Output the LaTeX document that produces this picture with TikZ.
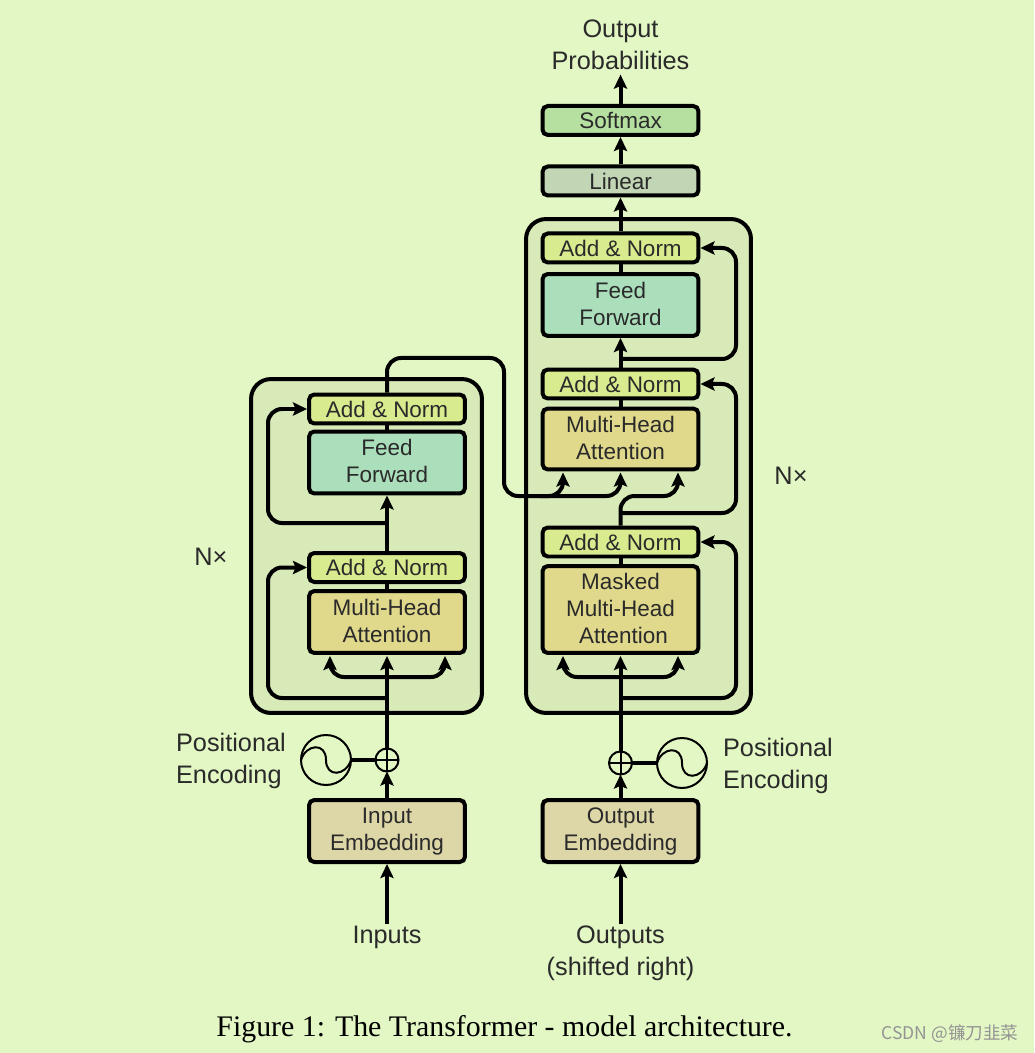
\documentclass[tikz,border=0pt]{standalone}
\usepackage{fontspec}
\setmainfont{Liberation Sans}
\newfontfamily\captionfont{Liberation Serif}
\newfontfamily\cjkfont{Noto Sans CJK SC}
\usepackage{xcolor}
\usetikzlibrary{arrows.meta}
\usetikzlibrary{calc}
\usetikzlibrary{positioning}
\definecolor{pagecolour}{HTML}{E3F7C4}
\definecolor{stackcolour}{HTML}{D7EAB8}
\definecolor{addcolour}{HTML}{D8EC8F}
\definecolor{feedcolour}{HTML}{ABDFBB}
\definecolor{attncolour}{HTML}{E0D88B}
\definecolor{embedcolour}{HTML}{DDD7A8}
\definecolor{softmaxcolour}{HTML}{B5E09F}
\definecolor{linearcolour}{HTML}{C2D5B5}
\definecolor{textcolour}{HTML}{2A2A2A}
\newcommand\wirewidth{.08cm}
\newcommand\thinwidth{.04cm}
\newcommand\boxtext{\fontsize{12.8}{15.3}\selectfont}
\newcommand\sidetext{\fontsize{14.4}{18.1}\selectfont}
\newcommand\nodepth[1]{\raisebox{0pt}[\height][0pt]{#1}}
\tikzset{>={Stealth[length=8pt,width=7.5pt,inset=1.5pt]}}
\tikzstyle{wire}      = [line width=\wirewidth, black]
\tikzstyle{loopwire}  = [wire, rounded corners=.28cm]
\tikzstyle{stack}     = [draw, line width=\wirewidth, fill=stackcolour, rounded corners=.4cm, inner sep=0pt]
\tikzstyle{block}     = [draw, line width=\wirewidth, rounded corners=3pt, inner sep=0pt,
                         minimum width=3.12cm, align=center, text=textcolour, font=\boxtext]
\tikzstyle{twolines}  = [execute at end node={\rule[-1.7pt]{0pt}{1.7pt}}]
\tikzstyle{addblock}  = [block, fill=addcolour, minimum height=.58cm]
\tikzstyle{feedblock} = [block, twolines, fill=feedcolour, minimum height=1.24cm]
\tikzstyle{attnblock} = [block, twolines, fill=attncolour, minimum height=1.24cm]
\tikzstyle{embedblock}= [block, twolines, fill=embedcolour, minimum height=1.24cm]
\tikzstyle{plaintext} = [align=center, text=textcolour, font=\sidetext, inner sep=1pt]
\tikzstyle{sinering}  = [draw, circle, line width=\thinwidth, minimum size=1cm, inner sep=0pt, outer sep=0pt]
\tikzstyle{plusring}  = [draw, circle, line width=\thinwidth, minimum size=.46cm, inner sep=0pt, outer sep=0pt, fill=pagecolour]
\newcommand\sinewave[1]{%
  \draw[line width=\thinwidth] (#1.west) .. controls +(5,-16) and +(0,-18) .. (#1.center)
    .. controls +(0,18) and +(-5,16) .. (#1.east);}
\newcommand\pluscross[1]{%
  \draw[line width=\thinwidth] (#1.north) -- (#1.south);
  \draw[line width=\thinwidth] (#1.west) -- (#1.east);}

\begin{document}
\begin{tikzpicture}[x=.02cm, y=-.02cm]
    \fill[pagecolour] (0, 0) rectangle (1034, 1053);
    \useasboundingbox (0, 0) rectangle (1034, 1053);

    % stacks
    \draw (366.5, 546) node (encoder) [stack, minimum width=4.62cm, minimum height=6.68cm] {};
    \draw (638.5, 466) node (decoder) [stack, minimum width=4.50cm, minimum height=9.88cm] {};

    % encoder blocks
    \draw (387, 831) node (inembed) [embedblock] {Input\\\nodepth{Embedding}};
    \draw (387, 622) node (enattn) [attnblock] {Multi-Head\\Attention};
    \draw (387, 567.5) node (enadda) [addblock] {Add \& Norm};
    \draw (387, 462.5) node (enfeed) [feedblock] {Feed\\Forward};
    \draw (387, 409) node (enaddb) [addblock] {Add \& Norm};

    % decoder blocks
    \draw (620.5, 831) node (outembed) [embedblock] {Output\\\nodepth{Embedding}};
    \draw (620.5, 609.5) node (demask) [attnblock, minimum height=1.74cm] {Masked\\Multi-Head\\\hspace*{.12cm}Attention};
    \draw (620.5, 542) node (deadda) [addblock] {Add \& Norm};
    \draw (620.5, 439) node (deattn) [attnblock, minimum height=1.22cm] {Multi-Head\\Attention};
    \draw (620.5, 384) node (deaddb) [addblock] {Add \& Norm};
    \draw (620.5, 305) node (defeed) [feedblock] {Feed\\Forward};
    \draw (620.5, 248) node (deaddc) [addblock] {Add \& Norm};
    \draw (620.5, 181) node (linear) [addblock, fill=linearcolour] {Linear};
    \draw (620.5, 120.5) node (softmax) [addblock, fill=softmaxcolour] {Softmax};

    % texts
    \draw (387, 937) node (inputs) [plaintext] {Inputs};
    \draw (620.5, 953) node (outputs) [plaintext] {Outputs\\(shifted right)};
    \draw (620.5, 45) node (probs) [plaintext] {Output\\Probabilities};
    \draw (174, 761) node (posl) [plaintext, anchor=west, align=left] {Positional\\Encoding};
    \draw (721, 766) node (posr) [plaintext, anchor=west, align=left] {Positional\\Encoding};
    \draw (211, 557) node (nxl) [plaintext] {N×};
    \draw (791, 476) node (nxr) [plaintext] {N×};
    \draw (504.5, 1029.5) node (figcap) [inner sep=0pt, font={\captionfont\fontsize{17}{20}\selectfont}] {Figure 1: The Transformer - model architecture.};
    \draw (950, 1034) node (mark) [inner sep=0pt, text=black!42, font={\cjkfont\fontsize{10}{12}\selectfont}] {CSDN @镰刀韭菜};

    % positional encoding
    \draw (326, 760) node (sinel) [sinering] {};
    \draw (387, 760) node (plusl) [plusring] {};
    \draw (682, 763) node (siner) [sinering] {};
    \draw (620.5, 763) node (plusr) [plusring] {};
    \sinewave{sinel}
    \sinewave{siner}
    \pluscross{plusl}
    \pluscross{plusr}
    \draw[wire] (sinel) -- (plusl);
    \draw[wire] (siner) -- (plusr);

    % free ends and bends
    \coordinate (enfana) at (330, 656);
    \coordinate (enfanb) at (387, 656);
    \coordinate (enfanc) at (445, 656);
    \coordinate (enfork) at (387, 677);
    \coordinate (enloop) at (387, 698);
    \coordinate (enloopa) at (268, 698);
    \coordinate (enloopb) at (387, 523);
    \coordinate (enloopc) at (268, 523);
    \coordinate (defana) at (563, 656);
    \coordinate (defanb) at (620.5, 656);
    \coordinate (defanc) at (678, 656);
    \coordinate (defork) at (620.5, 677);
    \coordinate (deloop) at (620.5, 698);
    \coordinate (deloopa) at (736, 698);
    \coordinate (deloopb) at (620.5, 513);
    \coordinate (deloopc) at (736, 513);
    \coordinate (deloopd) at (620.5, 359);
    \coordinate (deloope) at (736, 359);
    \coordinate (crossa) at (387, 358);
    \coordinate (crossb) at (504, 358);
    \coordinate (crossc) at (504, 496);
    \coordinate (crossd) at (620.5, 496);
    \coordinate (crosse) at (540, 496);
    \coordinate (tipa) at (563, 472.5);
    \coordinate (tipb) at (620.5, 472.5);
    \coordinate (tipc) at (678, 472.5);

    % encoder wires
    \draw[wire, ->] (inputs) -- (inembed);
    \draw[wire, ->] (inembed) -- (plusl);
    \draw[wire, ->] (plusl) -- (enfanb);
    \draw[loopwire, ->] (enfork) -| (enfana);
    \draw[loopwire, ->] (enfork) -| (enfanc);
    \draw[loopwire, ->] (enloop) -- (enloopa) |- (enadda.west);
    \draw[wire] (enattn) -- (enadda);
    \draw[wire, ->] (enadda) -- (enfeed);
    \draw[loopwire, ->] (enloopb) -- (enloopc) |- (enaddb.west);
    \draw[wire] (enfeed) -- (enaddb);

    % decoder wires
    \draw[wire, ->] (outputs) -- (outembed);
    \draw[wire, ->] (outembed) -- (plusr);
    \draw[wire, ->] (plusr) -- (defanb);
    \draw[loopwire, ->] (defork) -| (defana);
    \draw[loopwire, ->] (defork) -| (defanc);
    \draw[loopwire, ->] (deloop) -- (deloopa) |- (deadda.east);
    \draw[wire] (demask) -- (deadda);
    \draw[loopwire, ->] (deadda.north) -- (crossd) -| (tipc);
    \draw[loopwire, ->] (deloopb) -- (deloopc) |- (deaddb.east);
    \draw[wire] (deattn) -- (deaddb);
    \draw[wire, ->] (deaddb) -- (defeed);
    \draw[loopwire, ->] (deloopd) -- (deloope) |- (deaddc.east);
    \draw[wire] (defeed) -- (deaddc);
    \draw[wire, ->] (deaddc) -- (linear);
    \draw[wire, ->] (linear) -- (softmax);
    \draw[wire, ->, shorten >=1.5pt] (softmax) -- (probs);

    % encoder to decoder
    \draw[loopwire, ->] (enaddb.north) -- (crossa) -- (crossb) -- (crossc) -| (tipa);
    \draw[loopwire, ->] (crosse) -| (tipb);
\end{tikzpicture}
\end{document}
